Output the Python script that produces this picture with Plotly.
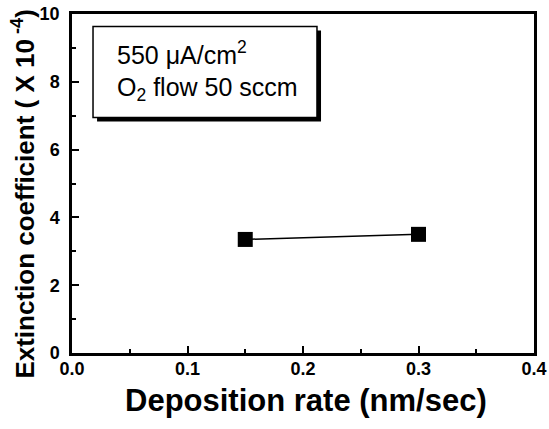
import plotly.graph_objects as go

# Data
deposition_rate = [0.15, 0.30]
extinction_coeff = [3.35, 3.5]

x_tickvals = [0.0, 0.1, 0.2, 0.3, 0.4]
x_ticktext = ["0.0", "0.1", "0.2", "0.3", "0.4"]
y_tickvals = [0, 2, 4, 6, 8, 10]
y_ticktext = ["0", "2", "4", "6", "8", "10"]

FONT = "Arial, Liberation Sans, sans-serif"

fig = go.Figure()
fig.add_trace(go.Scatter(
    x=deposition_rate, y=extinction_coeff,
    mode="lines+markers",
    line=dict(color="black", width=1.5),
    marker=dict(symbol="square", size=15, color="black"),
    showlegend=False,
))

axis_common = dict(
    showline=True, linecolor="black", linewidth=2.5, mirror=True,
    ticks="inside", ticklen=7, tickwidth=2, tickcolor="black",
    showgrid=False, zeroline=False, automargin=False,
    tickfont=dict(family=FONT, size=18, color="black", weight="bold"),
)

fig.update_xaxes(range=[0, 0.4], tickvals=x_tickvals, ticktext=x_ticktext,
                 ticklabelstandoff=-2,
                 minor=dict(dtick=0.05, tick0=0, ticks="inside", ticklen=4, tickwidth=1.5, tickcolor="black"),
                 **axis_common)
fig.update_yaxes(range=[0, 10], tickvals=y_tickvals, ticktext=y_ticktext,
                 ticklabelstandoff=6,
                 minor=dict(dtick=1, tick0=0, ticks="inside", ticklen=4, tickwidth=1.5, tickcolor="black"),
                 **axis_common)

# Inset box with drop shadow
fig.add_shape(type="rect", xref="x", yref="y", x0=0.0217, x1=0.2156, y0=6.83, y1=9.51,
              fillcolor="black", line=dict(width=0), layer="above")
fig.add_shape(type="rect", xref="x", yref="y", x0=0.0182, x1=0.2121, y0=6.95, y1=9.63,
              fillcolor="white", line=dict(color="black", width=1.5), layer="above")

fig.add_annotation(x=0.093, y=0.885, xref="paper", yref="paper", xanchor="left", yanchor="middle",
                   text="550 \u03bcA/cm<sup>2</sup>", showarrow=False,
                   font=dict(family=FONT, size=25, color="black"))
fig.add_annotation(x=0.093, y=0.778, xref="paper", yref="paper", xanchor="left", yanchor="middle",
                   text="O<sub>2</sub> flow 50 sccm", showarrow=False,
                   font=dict(family=FONT, size=25, color="black"))

# Axis titles
fig.add_annotation(x=0.506, y=-0.14, xref="paper", yref="paper", xanchor="center", yanchor="middle",
                   text="<b>Deposition rate (nm/sec)</b>", showarrow=False,
                   font=dict(family=FONT, size=31, color="black"))
fig.add_annotation(x=-0.104, y=0.47, xref="paper", yref="paper", xanchor="center", yanchor="middle",
                   text="<b>Extinction coefficient ( X 10<sup> -4</sup>)</b>", showarrow=False, textangle=-90,
                   font=dict(family=FONT, size=26, color="black"))

fig.update_layout(
    width=549, height=429,
    margin=dict(l=72, r=15, t=13.5, b=76),
    plot_bgcolor="white", paper_bgcolor="white",
)

fig.write_html("out.html", config={"displayModeBar": False},
               post_script="document.body.style.margin='0';")
